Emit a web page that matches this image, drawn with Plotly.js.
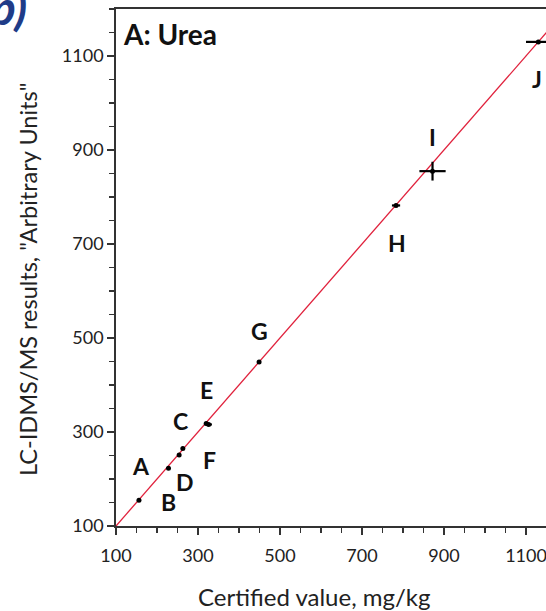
<!DOCTYPE html>
<html><head><meta charset="utf-8">
<script src="https://cdn.plot.ly/plotly-3.0.1.min.js"></script>
<style>html,body{margin:0;padding:0;overflow:hidden;background:#fff}</style>
</head><body><div id="chart"></div>
<script>
// Data
const sampleLabels = ["A","B","C","D","E","F","G","H","I","J"];
const certified    = [156, 228, 263, 254, 320, 326, 449, 783, 872, 1130];
const measured     = [155, 223, 265, 251, 318, 316, 449, 782, 855, 1130];
const certErr      = [3, 3, 4, 3, 4, 8, 3, 10, 32, 30];
const measErr      = [2, 2, 2, 2, 2, 2, 2, 2, 20, 3];
const lineX = [100, 1200];
const lineY = [100, 1200];
const xTitle = "Certified value, mg/kg";
const yTitle = "LC-IDMS/MS results, \"Arbitrary Units\"";
const panelTitle = "A: Urea";
// label pixel offsets (styling)
const labelShift = [[2,34],[0,-34],[-2,27],[6,-27],[0,34],[1,-36],[0,31],[1,-38],[0,34],[-1,-37]];

const font = "Lato, 'Open Sans', sans-serif";
const traces = [
  {x: lineX, y: lineY, mode: "lines", line: {color: "#e0213c", width: 1.3}, hoverinfo: "skip", showlegend: false},
  {x: certified, y: measured, mode: "markers", type: "scatter",
   marker: {color: "#000", size: 5},
   error_x: {type: "data", array: certErr, color: "#000", thickness: 2.2, width: 0},
   error_y: {type: "data", array: measErr, color: "#000", thickness: 2.2, width: 0},
   showlegend: false}
];
const annotations = sampleLabels.map((t, i) => ({
  x: certified[i], y: measured[i], xref: "x", yref: "y", text: "<b>" + t + "</b>", showarrow: false,
  xshift: labelShift[i][0], yshift: labelShift[i][1],
  font: {family: font, size: 23, color: "#111"}
}));
annotations.push({xref: "paper", yref: "paper", x: 0.012, y: 0.988, xanchor: "left", yanchor: "top",
  text: "<b>" + panelTitle + "</b>", showarrow: false, font: {family: font, size: 28, color: "#111"}});
annotations.push({xref: "paper", yref: "paper", x: -0.186, y: 1.0, xanchor: "right", yanchor: "bottom",
  yshift: -28, xshift: -3, text: "<b><i>b)</i></b>", showarrow: false, font: {family: font, size: 48, color: "#1f3c88"}});
annotations.push({xref: "paper", yref: "paper", x: 0.441, y: -0.137, xanchor: "center", yanchor: "middle",
  text: xTitle, showarrow: false, font: {family: font, size: 24, color: "#222"}});
annotations.push({xref: "paper", yref: "paper", x: -0.195, y: 0.476, xanchor: "center", yanchor: "middle",
  textangle: -90, text: yTitle, showarrow: false, font: {family: font, size: 23.5, color: "#222"}});

const axisCommon = {
  showgrid: false, zeroline: false, showline: true, linecolor: "#333", linewidth: 1.8,
  ticks: "outside", ticklen: 7, tickwidth: 1.5, tickcolor: "#333",
  tickfont: {family: font, size: 18, color: "#222"},
  minor: {dtick: 50, ticks: "outside", ticklen: 5, tickwidth: 1.5, tickcolor: "#333", showgrid: false}
};
const layout = {
  width: 600, height: 611,
  margin: {l: 116, r: 33, t: 9, b: 85},
  paper_bgcolor: "#fff", plot_bgcolor: "#fff",
  xaxis: Object.assign({}, axisCommon, {range: [100, 1200], tick0: 100, dtick: 200, mirror: true, ticklabelstandoff: 6}),
  yaxis: Object.assign({}, axisCommon, {range: [100, 1200], tick0: 100, dtick: 200, mirror: true}),
  annotations: annotations,
  showlegend: false
};
Plotly.newPlot("chart", traces, layout, {displayModeBar: false, staticPlot: true});
</script></body></html>
